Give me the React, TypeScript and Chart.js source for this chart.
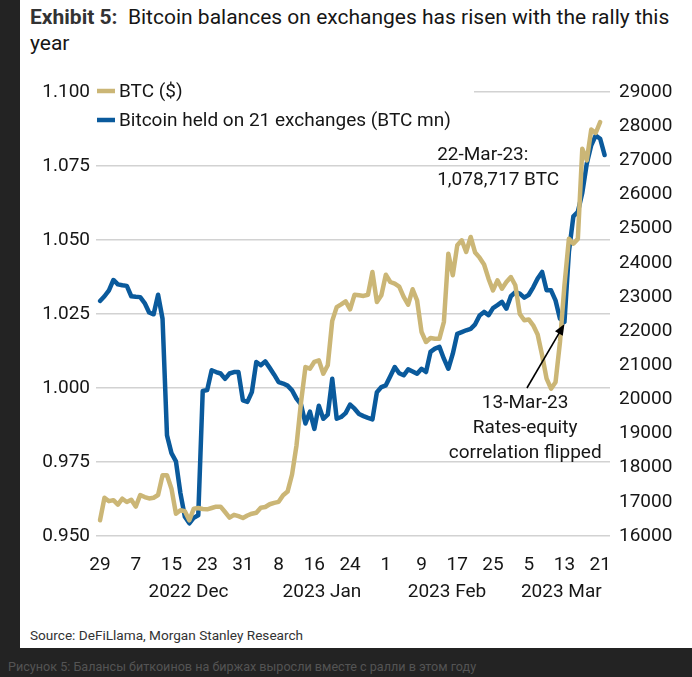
import React, { useEffect, useRef } from 'react';
import { Chart, registerables } from 'chart.js';

Chart.register(...registerables);

// Daily series, starting 29-Nov-2022 (index 0) through 22-Mar-2023 (index 113)
const btcPrice: (number | null)[] = [
  16460, 17120, 17020, 17050, 16917, 17092, 16995, 17060, 16860, 17200,
  17140, 17100, 17121, 17200, 17780, 17780, 17385, 16653, 16752, 16723,
  16460, 16800, 16820, 16790, 16781, 16820, 16860, 16860, 16703, 16540,
  16620, 16580, 16527, 16600, 16653, 16682, 16830, 16849, 16930, 16970,
  17000, 17191, 17300, 17800, 18656, 19900, 20948, 20899, 21100, 21144,
  20752, 20998, 22300, 22700, 22780, 22870, 22638, 23065, 23048, 23030,
  23065, 23730, 22852, 23048, 23651, 23437, 23388, 23300, 23000, 22773,
  23224, 22900, 21973, 21680, 21797, 21777, 21777, 22266, 24266, 23634,
  24512, 24658, 24316, 24755, 24300, 24150, 23950, 23534, 23193, 23487,
  23241, 23437, 23583, 23341, 22500, 22316, 22340, 22169, 21900, 21291,
  20606, 20313, 20500, 21680, 23341, 24705, 24559, 24700, 27340, 27000,
  27900, 27800, 28122, null,
];

const btcOnExchanges: number[] = [
  1.0294, 1.031, 1.033, 1.0365, 1.035, 1.0347, 1.0345, 1.031, 1.0308, 1.0307,
  1.0287, 1.0255, 1.0249, 1.0315, 1.0234, 0.984, 0.978, 0.9752, 0.9645, 0.9565,
  0.9543, 0.9562, 0.957, 0.999, 0.9993, 1.006, 1.0054, 1.0049, 1.0031, 1.0049,
  1.0054, 1.0054, 0.9958, 0.9953, 0.9986, 1.0088, 1.0077, 1.009, 1.0068, 1.0045,
  1.002, 1.0015, 1.0008, 0.9992, 0.9964, 0.9945, 0.988, 0.992, 0.9862, 0.994,
  0.9896, 0.991, 1.0031, 0.9896, 0.9902, 0.9915, 0.9944, 0.993, 0.9912, 0.9905,
  0.9899, 0.9894, 0.9986, 1.0003, 1.0009, 1.004, 1.0071, 1.005, 1.0043, 1.0063,
  1.0056, 1.0048, 1.0065, 1.0054, 1.0122, 1.0133, 1.0139, 1.0099, 1.0065, 1.0116,
  1.0183, 1.0189, 1.0195, 1.02, 1.0215, 1.0245, 1.0257, 1.0246, 1.027, 1.028,
  1.0291, 1.0268, 1.031, 1.0324, 1.0319, 1.0305, 1.0315, 1.034, 1.037, 1.0392,
  1.033, 1.033, 1.0296, 1.0234, 1.0223, 1.046, 1.058, 1.0595, 1.066, 1.0758,
  1.082, 1.0853, 1.0842, 1.0787,
];

const xTickDays = [0, 8, 16, 24, 32, 40, 48, 56, 64, 72, 80, 88, 96, 104, 112];
const xTickLabels = ['29', '7', '15', '23', '31', '8', '16', '24', '1', '9', '17', '25', '5', '13', '21'];
const monthLabels = ['2022 Dec', '2023 Jan', '2023 Feb', '2023 Mar'];
const monthLabelDays = [19.8, 49.7, 77.7, 103.3];

const seriesNames = ['BTC ($)', 'Bitcoin held on 21 exchanges (BTC mn)'];
const GOLD = '#CBB676';
const BLUE = '#0A5A9C';
const FONT = 'Roboto';
const TEXT = '#161616';

const overlayPlugin = {
  id: 'overlay',
  afterDatasetsDraw(chart: any) {
    const ctx = chart.ctx;
    const ca = chart.chartArea;
    const xs = chart.scales.x;
    const yl = chart.scales.yLeft;
    ctx.save();

    // Legend (white background hides the top gridline behind it)
    ctx.fillStyle = '#ffffff';
    ctx.fillRect(ca.left, ca.top - 12, 378, 44);
    ctx.font = `19px ${FONT}`;
    ctx.textBaseline = 'middle';
    ctx.textAlign = 'left';
    chart.data.datasets.forEach((ds: any, i: number) => {
      const y = ca.top - 1 + i * 29;
      ctx.strokeStyle = ds.borderColor;
      ctx.lineWidth = 4.5;
      ctx.lineCap = 'butt';
      ctx.beginPath();
      ctx.moveTo(ca.left + 1, y);
      ctx.lineTo(ca.left + 19, y);
      ctx.stroke();
      ctx.fillStyle = TEXT;
      ctx.fillText(ds.label, ca.left + 23, y + 1);
    });

    // Month labels
    ctx.textAlign = 'center';
    monthLabels.forEach((m, i) => {
      ctx.fillText(m, xs.getPixelForValue(monthLabelDays[i]), ca.bottom + 56);
    });

    // 22-Mar annotation
    ctx.textAlign = 'left';
    const lastIdx = btcOnExchanges.length - 1;
    const ax = xs.getPixelForValue(75.5);
    const ay = yl.getPixelForValue(btcOnExchanges[lastIdx]);
    ctx.fillText('22-Mar-23:', ax, ay);
    ctx.fillText('1,078,717 BTC', ax, ay + 25);

    // 13-Mar annotation
    ctx.textAlign = 'center';
    const bx = xs.getPixelForValue(95.2);
    const by = yl.getPixelForValue(0.9953);
    ctx.fillText('13-Mar-23', bx, by + 1);
    ctx.fillText('Rates-equity', bx, by + 26);
    ctx.fillText('correlation flipped', bx, by + 51);

    // Arrow
    const tx = xs.getPixelForValue(95.6);
    const ty = yl.getPixelForValue(1.0);
    const hx = xs.getPixelForValue(104);
    const hy = yl.getPixelForValue(btcOnExchanges[104]) + 2;
    const ang = Math.atan2(hy - ty, hx - tx);
    ctx.strokeStyle = '#000';
    ctx.fillStyle = '#000';
    ctx.lineWidth = 1.6;
    ctx.beginPath();
    ctx.moveTo(tx, ty);
    ctx.lineTo(hx - Math.cos(ang) * 8, hy - Math.sin(ang) * 8);
    ctx.stroke();
    ctx.beginPath();
    ctx.moveTo(hx, hy);
    ctx.lineTo(hx - Math.cos(ang) * 11 + Math.sin(ang) * 4.5, hy - Math.sin(ang) * 11 - Math.cos(ang) * 4.5);
    ctx.lineTo(hx - Math.cos(ang) * 11 - Math.sin(ang) * 4.5, hy - Math.sin(ang) * 11 + Math.cos(ang) * 4.5);
    ctx.closePath();
    ctx.fill();

    ctx.restore();
  },
};

export default function App() {
  const ref = useRef<HTMLCanvasElement>(null);

  useEffect(() => {
    document.body.style.margin = '0';
    const tickFont = { family: FONT, size: 19 };
    const chart = new Chart(ref.current as HTMLCanvasElement, {
      type: 'line',
      data: {
        datasets: [
          {
            label: seriesNames[0],
            data: btcPrice.map((v, i) => ({ x: i, y: v })) as any,
            borderColor: GOLD,
            backgroundColor: GOLD,
            borderWidth: 4.5,
            pointRadius: 0,
            tension: 0,
            borderJoinStyle: 'round',
            borderCapStyle: 'round',
            yAxisID: 'yRight',
          },
          {
            label: seriesNames[1],
            data: btcOnExchanges.map((v, i) => ({ x: i, y: v })),
            borderColor: BLUE,
            backgroundColor: BLUE,
            borderWidth: 4.5,
            pointRadius: 0,
            tension: 0,
            borderJoinStyle: 'round',
            borderCapStyle: 'round',
            yAxisID: 'yLeft',
          },
        ],
      },
      options: {
        animation: false,
        responsive: true,
        maintainAspectRatio: false,
        layout: { padding: { top: 30, left: 0, right: 0, bottom: 0 } },
        plugins: { legend: { display: false }, tooltip: { enabled: false } },
        scales: {
          x: {
            type: 'linear',
            min: -0.9,
            max: 114.2,
            afterFit: (s: any) => { s.height = 86; },
            afterBuildTicks: (s: any) => { s.ticks = xTickDays.map((v) => ({ value: v })); },
            ticks: {
              autoSkip: false,
              maxRotation: 0,
              padding: 10,
              color: TEXT,
              font: tickFont,
              callback: (v: any) => {
                const i = xTickDays.indexOf(Number(v));
                return i >= 0 ? xTickLabels[i] : '';
              },
            },
            grid: { display: false },
            border: { display: false },
          },
          yLeft: {
            type: 'linear',
            position: 'left',
            min: 0.95,
            max: 1.1,
            afterFit: (s: any) => { s.width = 76; },
            ticks: {
              stepSize: 0.025,
              padding: 6,
              color: TEXT,
              font: tickFont,
              callback: (v: any) => Number(v).toFixed(3),
            },
            grid: { color: '#d2d2d2', lineWidth: 1.4, drawTicks: false },
            border: { display: false },
          },
          yRight: {
            type: 'linear',
            position: 'right',
            min: 16000,
            max: 29000,
            afterFit: (s: any) => { s.width = 82; },
            ticks: {
              stepSize: 1000,
              padding: 9,
              color: TEXT,
              font: tickFont,
              callback: (v: any) => String(v),
            },
            grid: { display: false, drawTicks: false },
            border: { display: false },
          },
        },
      },
      plugins: [overlayPlugin],
    } as any);
    return () => chart.destroy();
  }, []);

  return (
    <div style={{ position: 'relative', width: 692, height: 677, background: '#232323', overflow: 'hidden', fontFamily: FONT }}>
      <div style={{ position: 'absolute', left: 20, top: 0, width: 672, height: 648, background: '#ffffff' }} />
      <div style={{ position: 'absolute', left: 30, top: 4, fontSize: 21, lineHeight: '26px', color: TEXT, whiteSpace: 'pre' }}>
        <span style={{ fontWeight: 700, color: '#333' }}>Exhibit 5:</span>
        {'  Bitcoin balances on exchanges has risen with the rally this'}
        <br />
        {'year'}
      </div>
      <div style={{ position: 'absolute', left: 20, top: 62, width: 672, height: 560 }}>
        <canvas ref={ref} />
      </div>
      <div style={{ position: 'absolute', left: 30, top: 627, fontSize: 13.6, lineHeight: '16px', color: '#333' }}>
        Source: DeFiLlama, Morgan Stanley Research
      </div>
      <div style={{ position: 'absolute', left: 8, top: 659, fontSize: 12.6, lineHeight: '16px', color: '#545454' }}>
        Рисунок 5: Балансы биткоинов на биржах выросли вместе с ралли в этом году
      </div>
    </div>
  );
}
